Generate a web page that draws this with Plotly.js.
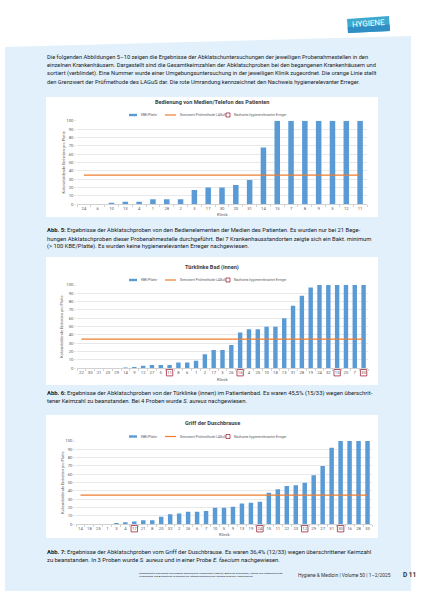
<!DOCTYPE html>
<html><head><meta charset="utf-8">
<script src="https://cdn.plot.ly/plotly-3.0.1.min.js"></script>
<style>html,body{margin:0;padding:0;background:#fff;}#chart{width:425px;height:596px;}</style>
</head><body><div id="chart"></div>
<script>
// ---------- data ----------
const klinik1 = ["24","6","10","13","4","1","28","2","3","17","30","20","31","14","15","7","8","9","5","12","11"];
const kbe1    = [0,0,2,3,3,6,6,6,17,20,20,23,29,68,100,100,100,100,100,100,100];

const klinik2 = ["22","30","21","23","29","14","9","12","27","5","11","8","6","1","2","17","3","26","16","4","25","10","18","13","31","28","19","24","32","15","20","7","33"];
const kbe2    = [0,0,0.3,0.5,0.5,1,1.5,3,4,4,4,7,7,9,17,22,22,28,43,47,47,50,50,60,75,87,97,100,100,100,100,100,100];
const flagged2 = ["11","16","15","33"];

const klinik3 = ["14","18","25","1","3","4","17","21","8","20","32","2","26","6","7","10","5","9","13","19","24","15","11","22","23","12","29","27","31","30","16","28","33"];
const kbe3    = [0,0,0,0,1.5,2.5,3.5,5,5,9,12,13,15,15,16,20,20,21,25,26,27,38,42,46,47,50,59,70,92,100,100,100,100];
const flagged3 = ["17","24","12","30"];

const grenzwert = 35;
const yTicks = [0,10,20,30,40,50,60,70,80,90,100];
const chartTitles = ["Bedienung von Medien/Telefon des Patienten","Türklinke Bad (innen)","Griff der Duschbrause"];
const legendLabels = ["KBE/Platte","Grenzwert Prüfmethode LAGuS","Nachweis hygienerelevanter Erreger"];
const xTitle = "Klinik";
const yTitle = "Koloniebildende Einheiten pro Platte";

const intro = [
"Die folgenden Abbildungen 5–10 zeigen die Ergebnisse der Abklatschuntersuchungen der jeweiligen Probenahmestellen in den",
"einzelnen Krankenhäusern. Dargestellt sind die Gesamtkeimzahlen der Abklatschproben bei den begangenen Krankenhäusern und",
"sortiert (verblindet). Eine Nummer wurde einer Umgebungsuntersuchung in der jeweiligen Klinik zugeordnet. Die orange Linie stellt",
"den Grenzwert der Prüfmethode des LAGuS dar. Die rote Umrandung kennzeichnet den Nachweis hygienerelevanter Erreger."
];
const cap5 = [
"<b>Abb. 5:</b> Ergebnisse der Abklatschproben von den Bedienelementen der Medien des Patienten. Es wurden nur bei 21 Bege-",
"hungen Abklatschproben dieser Probenahmestelle durchgeführt. Bei 7 Krankenhausstandorten zeigte sich ein Bakt. minimum",
"(&gt; 100 KBE/Platte). Es wurden keine hygienerelevanten Erreger nachgewiesen."
];
const cap6 = [
"<b>Abb. 6:</b> Ergebnisse der Abklatschproben von der Türklinke (innen) im Patientenbad. Es waren 45,5% (15/33) wegen überschrit-",
"tener Keimzahl zu beanstanden. Bei 4 Proben wurde <i>S. aureus</i> nachgewiesen."
];
const cap7 = [
"<b>Abb. 7:</b> Ergebnisse der Abklatschproben vom Griff der Duschbrause. Es waren 36,4% (12/33) wegen überschrittener Keimzahl",
"zu beanstanden. In 3 Proben wurde <i>S. aureus</i> und in einer Probe <i>E. faecium</i> nachgewiesen."
];
const footerSmall = [
"Landesamt für Gesundheit und Soziales Mecklenburg-Vorpommern (LAGuS), Abteilung Gesundheit, Hygiene und Infektionsschutz",
"Probenahme und Auswertung im Rahmen der infektionshygienischen Überwachung der Krankenhäuser"
];
const footerJournal = "Hygiene &amp; Medizin | Volume 50 | 1–2/2025";
const pageNo = "D 11";

// ---------- layout helpers ----------
const W = 425, H = 596;
const px = x => x / W;
const py = y => 1 - y / H;
const path = pts => pts.map((p,i)=>(i?'L':'M')+px(p[0]).toFixed(5)+','+py(p[1]).toFixed(5)).join(' ')+' Z';

const FONT = 'Roboto, "Liberation Sans", sans-serif';
const BLUE = '#5b9bd5', ORANGE = '#ed7d31', RED = '#a3253f';

const shapes = [], annotations = [], traces = [];
const layout = {
  width: W, height: H, margin:{l:0,r:0,t:0,b:0},
  paper_bgcolor:'#ffffff', plot_bgcolor:'rgba(0,0,0,0)',
  showlegend:false, font:{family:FONT, color:'#222'}
};

// page panel
shapes.push({type:'path', xref:'paper', yref:'paper', path:path([[5,47],[411,36],[411,591],[5,591]]),
  fillcolor:'#e1f0fa', line:{width:0}, layer:'below'});
// logo
shapes.push({type:'path', xref:'paper', yref:'paper', path:path([[347,19],[389,16],[390,31],[348,33]]),
  fillcolor:'#3ea9cf', line:{width:0}, layer:'below'});
shapes.push({type:'path', xref:'paper', yref:'paper', path:path([[347.7,27],[389.6,24.5],[390,31],[348,33]]),
  fillcolor:'#2f8fc4', line:{width:0}, layer:'below'});
annotations.push({xref:'paper', yref:'paper', x:px(368.5), y:py(23.5), text:'HYGIENE', showarrow:false,
  xanchor:'center', yanchor:'middle', textangle:-4, font:{size:8, color:'#ffffff', family:FONT}});

function textLines(lines, x0, yStart, dy, size){
  lines.forEach((t,i)=>annotations.push({xref:'paper', yref:'paper', x:px(x0), y:py(yStart+i*dy), text:t,
    showarrow:false, xanchor:'left', yanchor:'middle', font:{size:size, color:'#1a1a1a', family:FONT}}));
}
textLines(intro, 44.5, 57, 8.4, 5.72);
textLines(cap5, 44.5, 230.5, 8.2, 5.85);
textLines(cap6, 44.5, 393, 8.2, 5.85);
textLines(cap7, 44.5, 552, 8.2, 5.85);
textLines(footerSmall, 137, 573, 3.6, 2.5);
annotations.push({xref:'paper', yref:'paper', x:px(296), y:py(575), text:footerJournal, showarrow:false,
  xanchor:'left', yanchor:'middle', font:{size:4.9, color:'#333', family:FONT}});
annotations.push({xref:'paper', yref:'paper', x:px(401), y:py(575), text:'<b>'+pageNo+'</b>', showarrow:false,
  xanchor:'left', yanchor:'middle', font:{size:6.5, color:'#333', family:FONT}});

// ---------- charts ----------
const charts = [
  {ax:'', labels:klinik1, values:kbe1, flagged:[], barW:0.4, box:[46,97,378,217], plot:[77,120.7,367,204.3], titleY:102, legendY:115, klinikY:214, yTitleX:63},
  {ax:'2', labels:klinik2, values:kbe2, flagged:flagged2, barW:0.5, box:[46,257,378,385], plot:[77,285,368,368.3], titleY:267, legendY:280, klinikY:379.5, yTitleX:62},
  {ax:'3', labels:klinik3, values:kbe3, flagged:flagged3, barW:0.5, box:[46,415,378,538], plot:[76,441,372,524.3], titleY:423, legendY:436.5, klinikY:534.5, yTitleX:63}
];

charts.forEach((c,ci)=>{
  const xa = 'x'+c.ax, ya = 'y'+c.ax;
  const [bx0,by0,bx1,by1] = c.box, [plx0,ply0,plx1,ply1] = c.plot;
  shapes.push({type:'rect', xref:'paper', yref:'paper', x0:px(bx0), x1:px(bx1), y0:py(by1), y1:py(by0),
    fillcolor:'#ffffff', line:{width:0}, layer:'below'});

  layout['xaxis'+c.ax] = {domain:[px(plx0), px(plx1)], anchor:ya, type:'category',
    range:[-0.5, c.labels.length-0.5], showgrid:false, showline:true, linecolor:'#bfbfbf', linewidth:0.7,
    ticks:'outside', tickson:'boundaries', ticklen:1.8, tickcolor:'#bfbfbf', tickwidth:0.7,
    tickfont:{size:4.2, color:'#595959', family:FONT}, tickangle:0, fixedrange:true, automargin:false};
  layout['yaxis'+c.ax] = {domain:[py(ply1), py(ply0)], anchor:xa, range:[0,100], tickvals:yTicks,
    showgrid:true, gridcolor:'#d9d9d9', gridwidth:0.6, zeroline:false, showline:false,
    ticks:'outside', ticklen:1.8, tickcolor:'#d9d9d9', tickwidth:0.6,
    tickfont:{size:4.2, color:'#595959', family:FONT}, fixedrange:true, automargin:false};

  traces.push({type:'bar', x:c.labels, y:c.values, xaxis:xa, yaxis:ya, width:c.barW,
    marker:{color:BLUE, line:{width:0}}, hoverinfo:'none'});
  traces.push({type:'scatter', mode:'lines', x:c.labels, y:c.labels.map(()=>grenzwert), xaxis:xa, yaxis:ya,
    line:{color:ORANGE, width:1.3}, hoverinfo:'none'});

  // boxes around flagged clinic labels
  c.flagged.forEach(lab=>{
    const i = c.labels.indexOf(lab);
    shapes.push({type:'rect', xref:xa, yref:'paper', x0:i-0.36, x1:i+0.36, y0:py(ply1+7.6), y1:py(ply1+1.2),
      line:{color:RED, width:0.8}, fillcolor:'rgba(0,0,0,0)'});
  });

  // title
  annotations.push({xref:'paper', yref:'paper', x:px(212), y:py(c.titleY), text:'<b>'+chartTitles[ci]+'</b>',
    showarrow:false, xanchor:'center', yanchor:'middle', font:{size:5.6, color:'#404040', family:FONT}});
  // legend
  const ly = c.legendY;
  shapes.push({type:'rect', xref:'paper', yref:'paper', x0:px(129), x1:px(137), y0:py(ly+1.2), y1:py(ly-1.2),
    fillcolor:BLUE, line:{width:0}});
  shapes.push({type:'line', xref:'paper', yref:'paper', x0:px(165), x1:px(176), y0:py(ly), y1:py(ly),
    line:{color:ORANGE, width:1.2}});
  shapes.push({type:'rect', xref:'paper', yref:'paper', x0:px(226), x1:px(230), y0:py(ly+2), y1:py(ly-2),
    fillcolor:'rgba(0,0,0,0)', line:{color:RED, width:0.8}});
  [[139,0],[178,1],[232,2]].forEach(([lx,k])=>annotations.push({xref:'paper', yref:'paper', x:px(lx), y:py(ly),
    text:legendLabels[k], showarrow:false, xanchor:'left', yanchor:'middle', font:{size:3.3, color:'#595959', family:FONT}}));
  // axis titles
  annotations.push({xref:'paper', yref:'paper', x:px((plx0+plx1)/2), y:py(c.klinikY), text:xTitle, showarrow:false,
    xanchor:'center', yanchor:'middle', font:{size:4.4, color:'#595959', family:FONT}});
  annotations.push({xref:'paper', yref:'paper', x:px(c.yTitleX), y:py((ply0+ply1)/2), text:yTitle, showarrow:false,
    textangle:-90, xanchor:'center', yanchor:'middle', font:{size:3.9, color:'#595959', family:FONT}});
});

layout.shapes = shapes;
layout.annotations = annotations;
Plotly.newPlot('chart', traces, layout, {staticPlot:true, displayModeBar:false});
</script>
</body></html>
